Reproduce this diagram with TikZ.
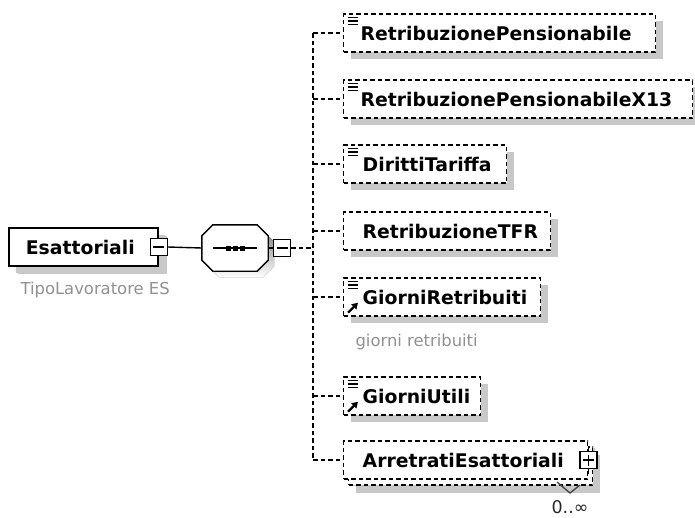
\documentclass[tikz,border=0pt]{standalone}
\usepackage{fontspec}
\setmainfont{DejaVu Sans}
\usetikzlibrary{arrows.meta,shadows}

\definecolor{shade}{RGB}{200,200,200}
\definecolor{notegray}{RGB}{145,145,145}

\tikzset{
  elem/.style={draw, dash pattern=on 4.5pt off 3pt, line width=1.4pt, fill=white,
    anchor=west, minimum height=38pt, inner xsep=17pt, align=left,
    font=\fontsize{18.8}{20}\selectfont\bfseries,
    drop shadow={shadow xshift=7pt, shadow yshift=-7pt, fill=shade, opacity=1}},
  link/.style={dash pattern=on 4.5pt off 3pt, line width=1.4pt},
  note/.style={text=notegray, anchor=west, font=\fontsize{16.4}{18}\selectfont},
  expander/.style={draw, fill=white, minimum size=17pt, inner sep=0pt, line width=1.3pt},
  minus/.style={expander, path picture={
    \draw[line width=1.3pt] ([xshift=3pt]path picture bounding box.west) -- ([xshift=-3pt]path picture bounding box.east);}},
  plus/.style={expander, path picture={
    \draw[line width=1.3pt] ([xshift=3pt]path picture bounding box.west) -- ([xshift=-3pt]path picture bounding box.east);
    \draw[line width=1.3pt] ([yshift=-3pt]path picture bounding box.north) -- ([yshift=3pt]path picture bounding box.south);}},
  seqbox/.style={minimum width=66pt, minimum height=46pt, inner sep=0pt}
}

% octagon round the sequence node
\newcommand\seqoutline[1]{%
  ([xshift=11pt]#1.north west) -- ([xshift=-11pt]#1.north east) --
  ([yshift=-11pt]#1.north east) -- ([yshift=11pt]#1.south east) --
  ([xshift=-11pt]#1.south east) -- ([xshift=11pt]#1.south west) --
  ([yshift=11pt]#1.south west) -- ([yshift=-11pt]#1.north west) -- cycle}

\begin{document}
\begin{tikzpicture}[x=1pt, y=-1pt]
\useasboundingbox (0,0) rectangle (695,517);

% root element and its type
\node[elem, solid, line width=1.8pt, text width=115pt,
  drop shadow={shadow xshift=9pt, shadow yshift=-8pt, fill=shade, opacity=1}] (esatt) at (8,247) {Esattoriali};
\node[minus] (esattx) at (esatt.east) {};
\node[note] (esattnote) at (17,290) {TipoLavoratore ES};

% sequence compositor
\node[seqbox] (seq) at (235,248) {};
\fill[shade, transform canvas={shift={(6pt,-6pt)}}] \seqoutline{seq};
\draw[line width=1.4pt, fill=white] \seqoutline{seq};
\draw[line width=1.4pt] ([xshift=-22pt]seq.center) -- ([xshift=22pt]seq.center);
\foreach \dx in {-7,0,7}
  \fill (seq.center) ++(\dx-2.5,-2.5) rectangle ++(5,5);
\node[minus] (seqx) at (282,248) {};
\draw[line width=1.4pt] (esattx.east) -- (seq.west);
\draw[line width=1.4pt] (seq.east) -- (seqx.west);

% child elements
\node[elem, text width=278pt] (e1) at (343,33) {RetribuzionePensionabile};
\node[elem, text width=315pt] (e2) at (343,99) {RetribuzionePensionabileX13};
\node[elem, text width=125pt, inner xsep=19pt] (e3) at (343,164) {DirittiTariffa};
\node[elem, text width=169pt, inner xsep=19pt] (e4) at (343,231) {RetribuzioneTFR};
\node[elem, text width=159pt, inner xsep=19pt] (e5) at (343,297) {GiorniRetribuiti};
\node[elem, text width=99pt, inner xsep=19pt] (e6) at (343,396) {GiorniUtili};
\node[elem, text width=206pt, inner xsep=19pt,
  drop shadow={shadow xshift=12pt, shadow yshift=-14pt, fill=shade, opacity=1},
  copy shadow={shadow xshift=5pt, shadow yshift=-6pt, draw=black, fill=white,
    dash pattern=on 4.5pt off 3pt, line width=1.4pt}] (e7) at (343,460) {ArretratiEsattoriali};
\node[plus] (e7x) at (e7.east) {};
\draw[line width=1.3pt] (e7x.north) -- ++(0,-5);
\draw[line width=1.3pt] (e7x.south) -- ++(0,5);
\node[note] (e5note) at (352,342) {giorni retribuiti};

% dashed tree
\coordinate (trunk) at (313,248);
\draw[link] (seqx.east) -- (trunk);
\draw[link] (trunk |- e1.west) -- (trunk |- e7.west);
\foreach \i in {1,...,7}
  \draw[link] (trunk |- e\i.west) -- (e\i.west);

% content and reference icons
\foreach \i in {1,2,3,5,6}
  \draw[line width=1.5pt] ([shift={(5,4)}]e\i.north west) -- ++(10,0)
    ++(-10,3.5) -- ++(10,0) ++(-10,3.5) -- ++(10,0);
\foreach \i in {5,6}
  \draw[line width=2.2pt, -{Triangle[length=6pt,width=7pt]}]
    ([shift={(5,-4)}]e\i.south west) -- ++(10,-10);

% occurrence
\draw[line width=1.3pt, black!75] (557,482) -- (570,493) -- (580,485);
\node[note, text=black!85, anchor=center, font=\fontsize{17.5}{19}\selectfont] (occ) at (570,507) {0..∞};
\end{tikzpicture}
\end{document}
